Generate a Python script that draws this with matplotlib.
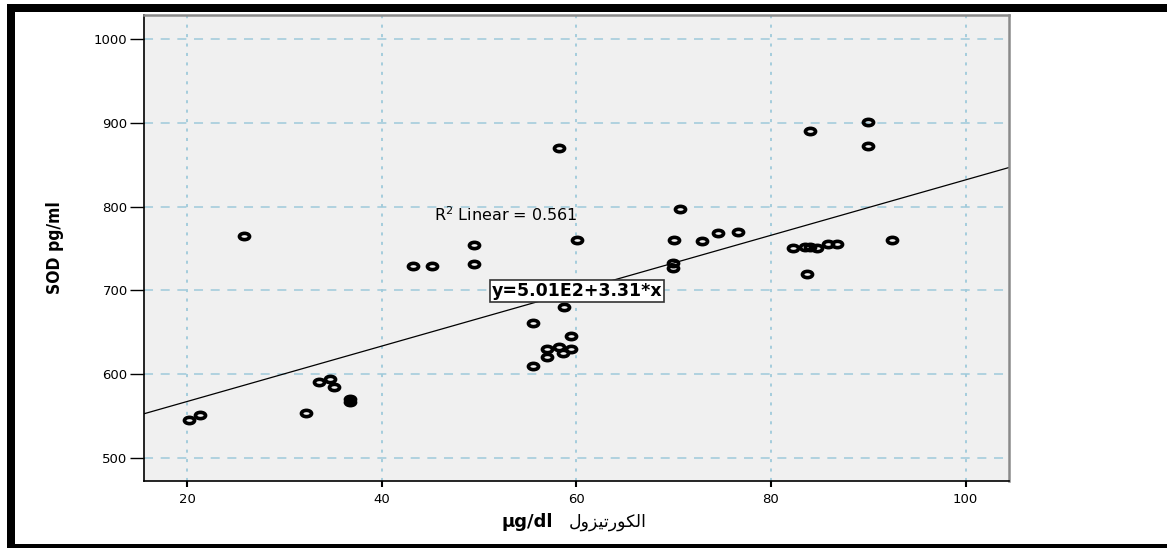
import numpy as np
import matplotlib
matplotlib.use("Agg")
import matplotlib.pyplot as plt
from matplotlib.path import Path
from matplotlib.patches import Rectangle

plt.rcParams['lines.scale_dashes'] = False

# ---- data ----
cortisol = [20.2, 21.3, 25.8, 32.2, 33.5, 34.7, 35.1, 36.7, 36.7, 43.2, 45.2,
            49.5, 49.5, 55.5, 55.5, 57.0, 57.0, 58.2, 58.6, 59.4, 59.4, 58.7,
            58.2, 60.1, 69.9, 69.9, 70.0, 70.7, 72.9, 74.6, 76.6, 82.3, 83.5,
            84.0, 84.7, 85.9, 86.8, 83.7, 84.0, 90.0, 90.0, 92.4]
sod = [545, 551, 765, 553, 591, 594, 584, 570, 567, 729, 729,
       754, 731, 661, 610, 630, 620, 632, 625, 630, 645, 680,
       870, 760, 733, 727, 760, 797, 759, 768, 770, 751, 752,
       752, 751, 755, 755, 719, 890, 901, 872, 760]
fit_intercept = 501.0
fit_slope = 3.31
r2_label = "R$^{2}$ Linear = 0.561"
eq_label = "y=5.01E2+3.31*x"
x_ticks = [20, 40, 60, 80, 100]
y_ticks = [500, 600, 700, 800, 900, 1000]
y_title = "SOD pg/ml"
x_title_unit = "\u00b5g/dl"
# "الكورتيزول" in presentation forms, visual (left-to-right) order
x_title_ar = "\uFEDD\uFEED\uFEB0\uFEF4\uFE97\uFEAD\uFEEE\uFEDC\uFEDF\uFE8D"

W, H = 1167, 548
fig = plt.figure(figsize=(W / 100, H / 100), dpi=100)
fig.patch.set_facecolor("white")

ax_l, ax_r, ax_t, ax_b = 144.3, 1009.3, 15.0, 481.0
ax = fig.add_axes([ax_l / W, 1 - ax_b / H, (ax_r - ax_l) / W, (ax_b - ax_t) / H])
ax.set_facecolor("#f0f0f0")
ax.set_xlim(15.58, 104.5)
ax.set_ylim(472.1, 1029.1)

grid_c = "#9fcada"
for yv in y_ticks:
    ax.axhline(yv, color=grid_c, lw=1.1, dashes=(6.5, 5.5), zorder=1, snap=True)
for xv in x_ticks:
    ax.axvline(xv, color=grid_c, lw=1.3, dashes=(2.2, 4.6), zorder=1, snap=True)

# regression line across the full x-range
xl = np.array(ax.get_xlim())
ax.plot(xl, fit_intercept + fit_slope * xl, color="black", lw=0.9, zorder=2)

# elliptical open markers
circ = Path.unit_circle()
ell = Path(circ.vertices * np.array([1.0, 0.62]), circ.codes)
ax.plot(cortisol, sod, linestyle="none", marker=ell, markersize=7.3,
        markerfacecolor="none", markeredgecolor="black", markeredgewidth=2.6,
        zorder=3)

ax.set_xticks(x_ticks)
ax.set_yticks(y_ticks)
ax.set_xticklabels([str(v) for v in x_ticks], family="DejaVu Sans", fontsize=9.5)
ax.set_yticklabels([str(v) for v in y_ticks], family="DejaVu Sans", fontsize=9.5)
ax.tick_params(axis="y", direction="out", length=10, width=1.0, pad=2)
ax.tick_params(axis="x", direction="out", length=4.5, width=1.5, pad=4)

for s in ("left", "bottom"):
    ax.spines[s].set_color("black")
    ax.spines[s].set_linewidth(1.2)
for s in ("top", "right"):
    ax.spines[s].set_color("#8a8a8a")
    ax.spines[s].set_linewidth(1.8)

# R^2 annotation
fig.text(434 / W, 1 - 215 / H, r2_label, family="DejaVu Sans", fontsize=11.5,
         ha="left", va="center")
# equation box
fig.text(577 / W, 1 - 291 / H, eq_label, family="DejaVu Sans", fontsize=12.5,
         fontweight="bold", ha="center", va="center",
         bbox=dict(boxstyle="square,pad=0.12", facecolor="white",
                   edgecolor="#333333", linewidth=1.2))

# y-axis title
fig.text(55 / W, 1 - 248 / H, y_title, rotation=90, ha="center", va="center",
         family="DejaVu Sans", fontstretch="condensed", fontweight="bold",
         fontsize=12.5)
# x-axis title: unit (bold) + Arabic word
fig.text(553 / W, 1 - 522 / H, x_title_unit, ha="right", va="center",
         family="DejaVu Sans", fontweight="bold", fontsize=13)
fig.text(569 / W, 1 - 522 / H, x_title_ar, ha="left", va="center",
         family="DejaVu Sans", fontsize=12.5)

# outer black frame (top, left, bottom bands)
fig.patches.append(Rectangle((7 / W, 1 - 12 / H), (W - 7) / W, 8 / H,
                             transform=fig.transFigure, facecolor="black",
                             edgecolor="none", zorder=10))
fig.patches.append(Rectangle((7 / W, 0), 8 / W, (H - 4) / H,
                             transform=fig.transFigure, facecolor="black",
                             edgecolor="none", zorder=10))
fig.patches.append(Rectangle((7 / W, 0), (W - 7) / W, 4.5 / H,
                             transform=fig.transFigure, facecolor="black",
                             edgecolor="none", zorder=10))

fig.savefig("out.png", dpi=100)
